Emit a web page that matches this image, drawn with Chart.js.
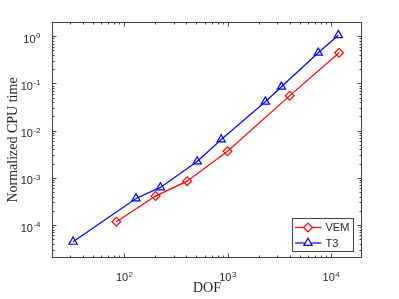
<!DOCTYPE html>
<html>
<head>
<meta charset="utf-8">
<script src="https://cdn.jsdelivr.net/npm/chart.js@4.4.1/dist/chart.umd.min.js"></script>
<style>
  html, body { margin: 0; padding: 0; background: #fff; }
  #wrap { width: 399px; height: 299px; }
</style>
</head>
<body>
<div id="wrap"><canvas id="cpu"></canvas></div>
<script>
// values (log-log)
const dofVEM = [84, 201, 406, 1000, 4000, 12000];
const cpuVEM = [1.17e-4, 4.1e-4, 8.5e-4, 3.65e-3, 0.055, 0.446];
const dofT3 = [32, 130, 224, 508, 868, 2320, 3320, 7550, 11800];
const cpuT3 = [4.4e-5, 3.66e-4, 6.26e-4, 2.22e-3, 6.46e-3, 0.041, 0.085, 0.446, 1.05];
const seriesNames = ['VEM', 'T3'];
const xTickExp = [2, 3, 4];
const yTickExp = [-4, -3, -2, -1, 0];

const axisColor = '#404040';
const textColor = '#262626';

function toPoints(xs, ys) {
  return xs.map((v, i) => ({ x: v, y: ys[i] }));
}

function drawMarker(ctx, style, cx, cy, r) {
  ctx.beginPath();
  if (style === 'rectRot') {
    ctx.moveTo(cx, cy - r);
    ctx.lineTo(cx + r, cy);
    ctx.lineTo(cx, cy + r);
    ctx.lineTo(cx - r, cy);
  } else {
    ctx.moveTo(cx, cy - r);
    ctx.lineTo(cx + r * 0.866, cy + r / 2);
    ctx.lineTo(cx - r * 0.866, cy + r / 2);
  }
  ctx.closePath();
  ctx.fill();
  ctx.stroke();
}

function powLabel(ctx, e, x, y, align) {
  ctx.font = '11px "Liberation Sans", Arial, sans-serif';
  const w1 = ctx.measureText('10').width;
  ctx.font = '8px "Liberation Sans", Arial, sans-serif';
  const w2 = ctx.measureText(String(e)).width;
  const start = align === 'center' ? x - (w1 + w2) / 2 : x - (w1 + w2);
  ctx.textAlign = 'left';
  ctx.textBaseline = 'alphabetic';
  ctx.font = '11px "Liberation Sans", Arial, sans-serif';
  ctx.fillText('10', start, y);
  ctx.font = '8px "Liberation Sans", Arial, sans-serif';
  ctx.fillText(String(e), start + w1 + 0.5, y - 4.5);
}

// MATLAB-like box axes: inward ticks on all four sides, 10^n labels
const matlabAxes = {
  id: 'matlabAxes',
  afterDraw(chart) {
    const { ctx, chartArea: a, scales: { x, y } } = chart;
    const L = Math.round(a.left) + 0.5, R = Math.round(a.right) - 0.5;
    const T = Math.round(a.top) + 0.5, B = Math.round(a.bottom) - 0.5;
    ctx.save();
    ctx.strokeStyle = axisColor;
    ctx.lineWidth = 1;
    ctx.strokeRect(L, T, R - L, B - T);

    ctx.beginPath();
    for (let k = Math.floor(Math.log10(x.min)); k <= Math.ceil(Math.log10(x.max)); k++) {
      for (let m = 1; m <= 9; m++) {
        const v = m * Math.pow(10, k);
        if (v <= x.min || v >= x.max) continue;
        const px = Math.round(x.getPixelForValue(v)) + 0.5;
        const len = m === 1 ? 4 : 2;
        ctx.moveTo(px, B); ctx.lineTo(px, B - len);
        ctx.moveTo(px, T); ctx.lineTo(px, T + len);
      }
    }
    for (let k = Math.floor(Math.log10(y.min)); k <= Math.ceil(Math.log10(y.max)); k++) {
      for (let m = 1; m <= 9; m++) {
        const v = m * Math.pow(10, k);
        if (v <= y.min || v >= y.max) continue;
        const py = Math.round(y.getPixelForValue(v)) + 0.5;
        const len = m === 1 ? 4 : 2;
        ctx.moveTo(L, py); ctx.lineTo(L + len, py);
        ctx.moveTo(R, py); ctx.lineTo(R - len, py);
      }
    }
    ctx.stroke();

    ctx.fillStyle = textColor;
    xTickExp.forEach(e => {
      powLabel(ctx, e, x.getPixelForValue(Math.pow(10, e)), a.bottom + 23, 'center');
    });
    yTickExp.forEach(e => {
      powLabel(ctx, e, a.left - 12, y.getPixelForValue(Math.pow(10, e)) + 6.5, 'right');
    });

    // axis titles
    ctx.font = '14px "Liberation Serif", "Times New Roman", serif';
    ctx.textAlign = 'center';
    ctx.textBaseline = 'alphabetic';
    ctx.fillText('DOF', (a.left + a.right) / 2, a.bottom + 34);
    ctx.save();
    ctx.translate(17, (a.top + a.bottom) / 2);
    ctx.rotate(-Math.PI / 2);
    ctx.fillText('Normalized CPU time', 0, 0);
    ctx.restore();

    // legend box, bottom right inside the axes
    const lw = 61, lh = 33;
    const lx = Math.round(a.right) - 9 - lw + 0.5, ly = Math.round(a.bottom) - 7 - lh + 0.5;
    ctx.fillStyle = '#fff';
    ctx.fillRect(lx, ly, lw, lh);
    ctx.strokeStyle = axisColor;
    ctx.strokeRect(lx, ly, lw, lh);
    chart.data.datasets.forEach((ds, i) => {
      const cy = ly + 9 + i * 15.5;
      ctx.strokeStyle = ds.borderColor;
      ctx.fillStyle = '#fff';
      ctx.lineWidth = 1.2;
      ctx.beginPath();
      ctx.moveTo(lx + 2.5, cy); ctx.lineTo(lx + 29, cy);
      ctx.stroke();
      drawMarker(ctx, ds.pointStyle, lx + 15.5, cy, ds.pointRadius);
      ctx.fillStyle = textColor;
      ctx.font = '11px "Liberation Sans", Arial, sans-serif';
      ctx.textAlign = 'left';
      ctx.textBaseline = 'middle';
      ctx.fillText(ds.label, lx + 33, cy + 0.5);
    });
    ctx.restore();
  }
};

new Chart(document.getElementById('cpu'), {
  type: 'line',
  data: {
    datasets: [{
      label: seriesNames[0],
      data: toPoints(dofVEM, cpuVEM),
      borderColor: '#ff0000',
      backgroundColor: 'rgba(255,255,255,0)',
      borderWidth: 1.2,
      pointStyle: 'rectRot',
      pointRadius: 4.4,
      pointBorderWidth: 1.2,
      pointBackgroundColor: 'rgba(255,255,255,0)',
      tension: 0
    }, {
      label: seriesNames[1],
      data: toPoints(dofT3, cpuT3),
      borderColor: '#0000ff',
      backgroundColor: 'rgba(255,255,255,0)',
      borderWidth: 1.2,
      pointStyle: 'triangle',
      pointRadius: 4.8,
      pointBorderWidth: 1.2,
      pointBackgroundColor: 'rgba(255,255,255,0)',
      tension: 0
    }]
  },
  options: {
    responsive: true,
    maintainAspectRatio: false,
    animation: false,
    layout: { padding: { left: 52, right: 37, top: 22, bottom: 41 } },
    scales: {
      x: { type: 'logarithmic', min: 20, max: 20000, display: false },
      y: { type: 'logarithmic', min: 2e-5, max: 2, display: false }
    },
    plugins: {
      legend: { display: false },
      tooltip: { enabled: false }
    }
  },
  plugins: [matlabAxes]
});
</script>
</body>
</html>
